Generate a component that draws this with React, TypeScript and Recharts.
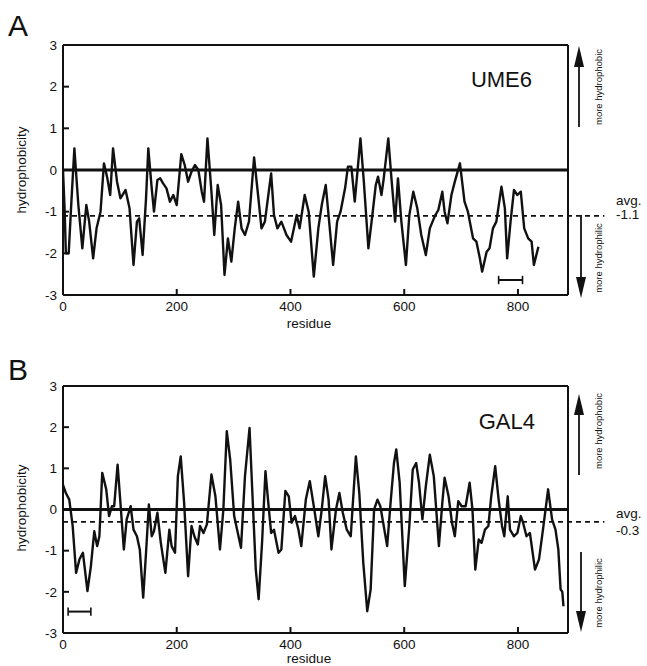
import React from 'react'
import { LineChart, Line, XAxis, YAxis, ReferenceLine } from 'recharts'

// residue positions and hydrophobicity
const ume6Residues = [
  0, 3, 5, 10, 15, 20, 27, 34, 41, 46, 53, 59, 66, 72, 78, 83, 88, 95, 101, 110,
  117, 124, 130, 134, 140, 146, 150, 156, 160, 166, 171, 176, 182, 188, 194, 200, 208, 214, 220, 226,
  232, 238, 244, 248, 254, 261, 266, 272, 278, 284, 290, 296, 302, 308, 314, 320, 327, 336, 343, 349,
  355, 366, 371, 377, 384, 393, 401, 411, 416, 425, 432, 441, 449, 455, 462, 468, 475, 482, 488, 496,
  501, 507, 513, 523, 529, 537, 544, 550, 554, 560, 564, 572, 578, 584, 589, 595, 603, 609, 616, 623,
  630, 638, 645, 654, 660, 667, 671, 676, 683, 689, 698, 706, 712, 721, 727, 733, 737, 745, 750, 756,
  762, 771, 777, 781, 787, 793, 799, 805, 811, 818, 824, 828, 836,
]
const ume6Values = [
  0.0, -1.0, -2.0, -2.0, -0.7, 0.52, -0.84, -1.88, -0.84, -1.24, -2.12, -1.4, -1.0, 0.16, -0.2, -0.6, 0.52, -0.28, -0.68, -0.48,
  -0.92, -2.28, -1.24, -1.16, -2.04, -0.68, 0.52, -0.44, -1.0, -0.24, -0.2, -0.32, -0.44, -0.76, -0.6, -0.84, 0.38, 0.12, -0.28, -0.04,
  0.12, 0.0, -0.52, -0.76, 0.76, -0.52, -1.56, -0.36, -0.84, -2.52, -1.64, -2.2, -1.4, -0.76, -1.4, -1.56, -1.24, 0.3, -0.6, -1.4,
  -1.24, -0.08, -1.08, -1.4, -1.24, -1.56, -1.72, -1.08, -1.4, -0.6, -1.0, -2.56, -1.4, -0.84, -0.36, -1.24, -2.28, -1.24, -1.0, -0.44,
  0.08, 0.08, -0.76, 0.76, -0.28, -1.88, -1.08, -0.36, -0.16, -0.6, -0.2, 0.76, -0.28, -1.24, -0.2, -1.24, -2.28, -1.08, -0.52, -0.92,
  -1.56, -2.04, -1.4, -1.1, -0.96, -0.52, -1.0, -1.28, -0.6, -0.28, 0.16, -0.76, -1.0, -1.64, -1.72, -2.12, -2.44, -1.96, -1.88, -1.4,
  -1.24, -0.4, -0.92, -2.12, -1.24, -0.48, -0.6, -0.52, -1.4, -1.64, -1.72, -2.28, -1.84,
]

const gal4Residues = [
  0, 5, 11, 17, 23, 29, 35, 43, 49, 55, 60, 64, 69, 76, 81, 86, 90, 96, 101, 107,
  112, 119, 124, 130, 135, 141, 146, 151, 156, 160, 166, 172, 180, 187, 191, 197, 202, 207, 213, 220,
  226, 231, 237, 241, 247, 253, 261, 268, 276, 282, 288, 294, 301, 313, 320, 328, 333, 339, 344, 350,
  356, 361, 366, 371, 379, 384, 391, 397, 402, 408, 414, 419, 427, 434, 441, 449, 455, 461, 467, 472,
  480, 486, 492, 499, 506, 509, 515, 521, 528, 535, 541, 547, 553, 558, 564, 570, 576, 582, 586, 592,
  601, 609, 615, 621, 626, 632, 638, 645, 652, 661, 667, 671, 678, 684, 689, 695, 701, 708, 715, 720,
  725, 731, 736, 742, 748, 753, 760, 766, 772, 776, 782, 786, 793, 799, 805, 809, 815, 821, 830, 837,
  844, 853, 860, 866, 871, 875, 878, 880,
]
const gal4Values = [
  0.6, 0.4, 0.24, -0.4, -1.54, -1.21, -1.05, -1.98, -1.38, -0.53, -0.89, -0.65, 0.89, 0.49, -0.16, 0.08, 0.08, 1.09, 0.16, -0.97,
  -0.24, 0.08, -0.49, -0.65, -0.97, -2.14, -1.05, 0.12, -0.65, -0.53, -0.08, -0.81, -1.54, -0.49, -0.89, -1.05, 0.81, 1.29, 0.16, -1.62,
  -0.4, -0.65, -0.85, -0.4, -0.57, -0.36, 0.85, 0.32, -0.97, 0.0, 1.9, 1.21, -0.16, -0.93, 0.81, 1.98, 0.4, -1.46, -2.18, -0.81,
  0.93, 0.16, -0.57, -0.49, -1.05, -0.97, 0.45, 0.32, -0.32, -0.16, -0.49, -0.89, 0.24, 0.69, 0.08, -0.65, 0.0, 0.81, 0.24, -0.97,
  0.0, 0.4, -0.08, -0.49, -0.65, 0.0, 1.29, 0.4, -1.29, -2.47, -1.94, 0.0, 0.24, 0.08, -0.4, -0.89, 0.16, 1.13, 1.46, 0.65,
  -1.86, -0.4, 0.97, 1.13, 0.65, -0.24, 0.57, 1.33, 0.81, -0.89, 0.16, 0.77, 0.32, -0.32, -0.65, 0.2, 0.08, 0.08, 0.65, 0.0,
  -1.46, -0.73, -0.81, -0.49, -0.4, 0.32, 1.05, 0.24, -0.4, -0.65, 0.32, -0.49, -0.65, -0.57, -0.16, -0.32, -0.65, -0.57, -1.46, -1.21,
  -0.49, 0.49, -0.24, -0.49, -0.97, -1.94, -2.0, -2.35,
]

const xTicks = [0, 200, 400, 600, 800]
const yTicks = [-3, -2, -1, 0, 1, 2, 3]
const ume6Avg = -1.1
const gal4Avg = -0.3
// scale bars: [start residue, end residue, level]
const ume6Bar = [766, 808, -2.64]
const gal4Bar = [9, 49, -2.48]

const FONT = '"Liberation Sans", Arial, Helvetica, sans-serif'
const INK = '#111'

const toRows = (xs: number[], ys: number[]) => xs.map((r, i) => ({ residue: r, value: ys[i] }))

type PanelProps = {
  rows: { residue: number; value: number }[]
  avg: number
  bar: number[]
  top: number
  bottom: number
}

function Panel({ rows, avg, bar, top, bottom }: PanelProps) {
  const axisStyle = { stroke: INK, strokeWidth: 2 }
  const tickStyle = { fill: INK, fontSize: 13.5, fontFamily: FONT }
  const [b0, b1, by] = bar
  return (
    <LineChart width={647} height={333} data={rows} margin={{ top, right: 78, bottom, left: 23 }}>
      <XAxis dataKey="residue" type="number" domain={[0, 888]} ticks={xTicks} interval={0}
        allowDataOverflow height={30} tickSize={-6} tickMargin={12}
        axisLine={axisStyle} tickLine={axisStyle} tick={tickStyle} />
      <XAxis xAxisId="top" orientation="top" dataKey="residue" type="number" domain={[0, 888]}
        ticks={xTicks} interval={0} allowDataOverflow height={1} tickSize={-6}
        axisLine={axisStyle} tickLine={axisStyle} tick={false} />
      <YAxis type="number" domain={[-3, 3]} ticks={yTicks} interval={0} width={40}
        tickSize={-6} tickMargin={12} axisLine={axisStyle} tickLine={axisStyle} tick={tickStyle} />
      <YAxis yAxisId="right" orientation="right" type="number" domain={[-3, 3]} ticks={yTicks}
        interval={0} width={1} tickSize={-6} axisLine={axisStyle} tickLine={axisStyle} tick={false} />
      <ReferenceLine y={0} stroke={INK} strokeWidth={3.2} />
      <ReferenceLine segment={[{ x: 0, y: avg }, { x: 952, y: avg }]} ifOverflow="visible"
        stroke={INK} strokeWidth={1.8} strokeDasharray="5 4" />
      <ReferenceLine segment={[{ x: b0, y: by }, { x: b1, y: by }]} stroke={INK} strokeWidth={2} />
      <ReferenceLine segment={[{ x: b0, y: by - 0.1 }, { x: b0, y: by + 0.1 }]} stroke={INK} strokeWidth={1.6} />
      <ReferenceLine segment={[{ x: b1, y: by - 0.1 }, { x: b1, y: by + 0.1 }]} stroke={INK} strokeWidth={1.6} />
      <Line dataKey="value" type="linear" stroke={INK} strokeWidth={2.4} dot={false}
        strokeLinejoin="round" isAnimationActive={false} />
    </LineChart>
  )
}

function Arrow({ x, y1, y2 }: { x: number; y1: number; y2: number }) {
  // shaft from y1 to tip at y2
  const dir = y2 < y1 ? 1 : -1
  return (
    <g>
      <line x1={x} y1={y1} x2={x} y2={y2 + dir * 14} stroke={INK} strokeWidth={1.8} />
      <polygon points={`${x},${y2} ${x - 5},${y2 + dir * 21} ${x + 5},${y2 + dir * 21}`} fill={INK} />
    </g>
  )
}

function Notes() {
  const small = { fontSize: 9.5, fontFamily: FONT, fill: INK }
  const mid = { fontSize: 13.5, fontFamily: FONT, fill: INK }
  return (
    <svg width={647} height={666} style={{ position: 'absolute', left: 0, top: 0, pointerEvents: 'none' }}>
      <text x={8} y={36} style={{ fontSize: 30, fontFamily: FONT, fill: INK }}>A</text>
      <text x={8} y={380} style={{ fontSize: 30, fontFamily: FONT, fill: INK }}>B</text>

      <text x={21} y={170} transform="rotate(-90 21 170)" textAnchor="middle" dominantBaseline="central" style={mid}>hydrophobicity</text>
      <text x={21} y={508} transform="rotate(-90 21 508)" textAnchor="middle" dominantBaseline="central" style={mid}>hydrophobicity</text>
      <text x={309} y={328} textAnchor="middle" style={mid}>residue</text>
      <text x={309} y={663} textAnchor="middle" style={mid}>residue</text>

      <text x={532} y={87} textAnchor="end" style={{ fontSize: 22, fontFamily: FONT, fill: INK }}>UME6</text>
      <text x={535} y={429} textAnchor="end" style={{ fontSize: 22, fontFamily: FONT, fill: INK }}>GAL4</text>

      <Arrow x={579} y1={127} y2={46} />
      <Arrow x={581} y1={215} y2={298} />
      <Arrow x={579} y1={475} y2={394} />
      <Arrow x={581} y1={552} y2={632} />

      <text x={598} y={87} transform="rotate(-90 598 87)" textAnchor="middle" dominantBaseline="central" style={small}>more hydrophobic</text>
      <text x={598} y={258} transform="rotate(-90 598 258)" textAnchor="middle" dominantBaseline="central" style={small}>more hydrophilic</text>
      <text x={598} y={431} transform="rotate(-90 598 431)" textAnchor="middle" dominantBaseline="central" style={small}>more hydrophobic</text>
      <text x={598} y={593} transform="rotate(-90 598 593)" textAnchor="middle" dominantBaseline="central" style={small}>more hydrophilic</text>

      <text x={616} y={205} style={mid}>avg.</text>
      <text x={616} y={219} style={mid}>{String(ume6Avg)}</text>
      <text x={616} y={518} style={mid}>avg.</text>
      <text x={616} y={535} style={mid}>{String(gal4Avg)}</text>
    </svg>
  )
}

export default function App() {
  const ume6 = toRows(ume6Residues, ume6Values)
  const gal4 = toRows(gal4Residues, gal4Values)
  return (
    <div style={{ position: 'absolute', left: 0, top: 0, width: 647, height: 666, background: '#fff' }}>
      <div style={{ position: 'absolute', left: 0, top: 0 }}>
        <Panel rows={ume6} avg={ume6Avg} bar={ume6Bar} top={44} bottom={8} />
      </div>
      <div style={{ position: 'absolute', left: 0, top: 333 }}>
        <Panel rows={gal4} avg={gal4Avg} bar={gal4Bar} top={52} bottom={3} />
      </div>
      <Notes />
    </div>
  )
}
